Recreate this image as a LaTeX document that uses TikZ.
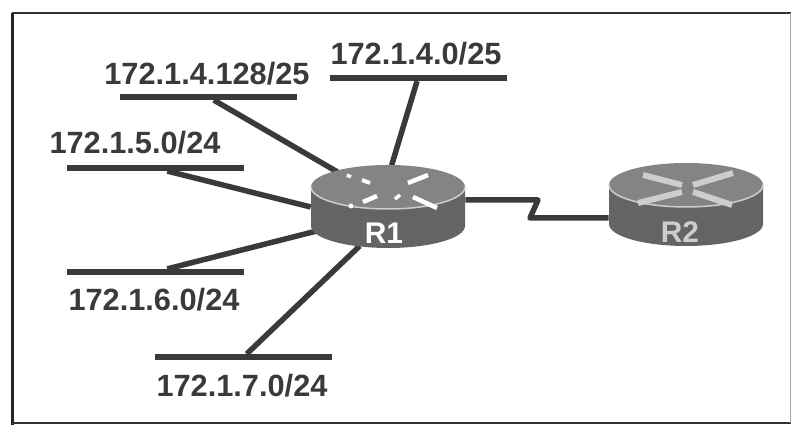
\documentclass[tikz,border=0pt]{standalone}
\usepackage{xcolor}
\usepackage{fontspec}
\setmainfont{Liberation Sans}
\usetikzlibrary{shapes.geometric}
\definecolor{myink}{RGB}{58,58,58}
\definecolor{myside}{RGB}{100,100,100}
\definecolor{mytop}{RGB}{132,132,132}
\definecolor{myedge}{RGB}{205,205,205}
\tikzset{
  netbar/.style={fill=myink, inner sep=0pt, minimum width=3.54cm, minimum height=0.11cm},
  netlabel/.style={text=myink, inner sep=0pt, font=\fontsize{17.5}{20}\selectfont\bfseries},
  routerspot/.style={ellipse, inner sep=0pt, minimum width=3.08cm, minimum height=1.66cm},
  routername/.style={inner sep=0pt, font=\fontsize{17}{20}\selectfont\bfseries},
  wire/.style={myink, line width=0.11cm},
  routerbody/.pic={
    \fill[myside] (-1.54,0.4) -- (-1.54,-0.38) arc (180:360:1.54 and 0.44) -- (1.54,0.4) -- cycle;
    \fill[mytop] (0,0.4) ellipse (1.54 and 0.44);
    \draw[myedge, line width=0.03cm] (-1.54,0.4) arc (180:360:1.54 and 0.44);
  }
}
\begin{document}
\begin{tikzpicture}
  \useasboundingbox (0,0) rectangle (15.82,8.5);
  \draw[black!80, line width=0.03cm] (0.24,8.24) -- (15.82,8.24);
  \draw[black!85, line width=0.06cm] (0.24,8.24) -- (0.24,0);
  \draw[black!80, line width=0.05cm] (0.24,0.04) -- (15.82,0.04);
  \draw[black!35, line width=0.02cm] (15.8,8.24) -- (15.8,0.04);

  \node[routerspot] (r1) at (7.76,4.36) {};
  \node[routerspot] (r2) at (13.72,4.40) {};

  \node[netbar] (net128) at (4.17,6.56) {};
  \node[netbar] (net40) at (8.36,6.94) {};
  \node[netbar] (net50) at (3.10,5.14) {};
  \node[netbar] (net60) at (3.10,3.06) {};
  \node[netbar] (net70) at (4.87,1.36) {};

  \node[netlabel] (lab128) at (4.14,7.02) {172.1.4.128/25};
  \node[netlabel] (lab40) at (8.32,7.42) {172.1.4.0/25};
  \node[netlabel] (lab50) at (2.70,5.64) {172.1.5.0/24};
  \node[netlabel] (lab60) at (3.08,2.50) {172.1.6.0/24};
  \node[netlabel] (lab70) at (4.84,0.78) {172.1.7.0/24};

  \draw[wire] (net128) -- (r1.145);
  \draw[wire] (net40) -- (r1.85);
  \draw[wire] (net50) -- (r1.west);
  \draw[wire] (net60) -- (r1.199);
  \draw[wire] (net70) -- (r1.234);

  \coordinate (bendA) at (10.76,4.50);
  \coordinate (bendB) at (10.60,4.14);
  \draw[wire, line join=round] (bendA -| r1.east) -- (bendA) -- (bendB) -- (bendB -| r2.west);

  \pic at (r1) {routerbody};
  \pic at (r2) {routerbody};

  \draw[white, line width=0.07cm] (6.94,5.00) -- (7.02,4.96);
  \draw[white, line width=0.08cm] (7.24,4.90) -- (7.40,4.84);
  \draw[white, line width=0.09cm] (8.16,4.84) -- (8.56,5.00);
  \draw[white, line width=0.09cm] (7.26,4.46) -- (7.54,4.58);
  \draw[white, line width=0.07cm] (7.90,4.52) -- (8.00,4.60);
  \draw[white, line width=0.09cm] (8.26,4.56) -- (8.74,4.34);
  \fill[white] (7.02,4.38) circle (0.05);

  \foreach \a/\b/\c/\d in {12.86/5.00/13.64/4.80, 14.66/5.04/13.86/4.80,
                           12.76/4.44/13.64/4.66, 14.64/4.40/13.86/4.66}{
    \draw[myedge, line width=0.12cm] (\a,\b) -- (\c,\d);
  }

  \node[routername, text=white] (nameR1) at (7.68,3.84) {R1};
  \node[routername, text=myedge] (nameR2) at (13.60,3.86) {R2};
\end{tikzpicture}
\end{document}
